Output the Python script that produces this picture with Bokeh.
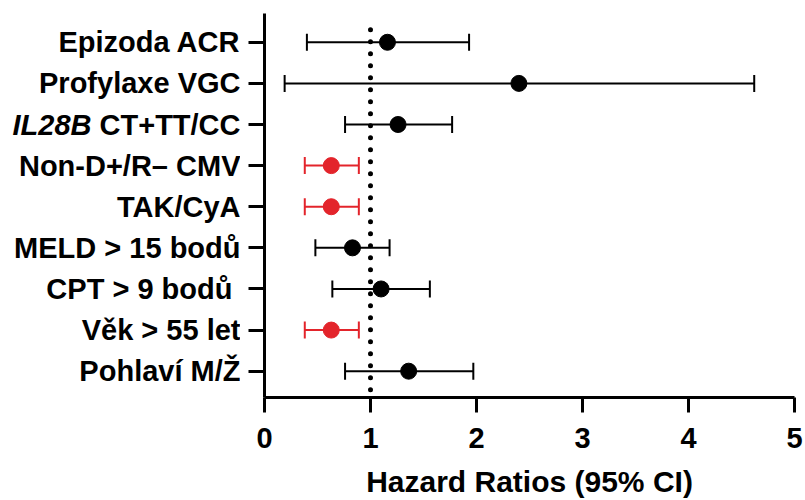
from bokeh.plotting import figure
from bokeh.models import ColumnDataSource, FixedTicker, Range1d, CustomLabelingPolicy
from bokeh.layouts import row
from bokeh.core.properties import value
from bokeh.embed import file_html
from bokeh.resources import INLINE

# Rows listed top to bottom
labels = ["Epizoda ACR", "Profylaxe VGC", "IL28B CT+TT/CC", "Non-D+/R\u2013 CMV",
          "TAK/CyA", "MELD > 15 bod\u016f", "CPT > 9 bod\u016f ", "V\u011bk > 55 let",
          "Pohlav\u00ed M/\u017d"]
hr = [1.16, 2.40, 1.26, 0.63, 0.63, 0.83, 1.10, 0.63, 1.36]
ci_low = [0.40, 0.19, 0.76, 0.38, 0.38, 0.48, 0.64, 0.38, 0.76]
ci_high = [1.93, 4.62, 1.77, 0.89, 0.89, 1.18, 1.56, 0.89, 1.97]
significant = [False, False, False, True, True, False, False, True, False]
x_ticks = [0, 1, 2, 3, 4, 5]
ref_value = 1
x_title = "Hazard Ratios (95% CI)"

RED = "#E3242B"
FONT = "Liberation Sans"

n = len(labels)
ypos = [n - 1 - i for i in range(n)]
colors = [RED if s else "black" for s in significant]

src = ColumnDataSource(dict(y=ypos, hr=hr, lo=ci_low, hi=ci_high, color=colors))

H = 500
LAB_W = 240          # width of the label column
BT, BB = 13, 100
yr = Range1d(-0.64, 8.7)

# ---------- label column ----------
lab = figure(width=LAB_W, height=H, output_backend="svg", toolbar_location=None,
             x_range=Range1d(0, LAB_W), y_range=yr, x_axis_type=None, y_axis_type=None,
             min_border_left=0, min_border_right=0, min_border_top=BT, min_border_bottom=BB)
lab.outline_line_color = None
lab.xgrid.visible = False
lab.ygrid.visible = False

plain_txt, plain_y, plain_x = [], [], []
for i, t in enumerate(labels):
    if t.startswith("IL28B"):
        continue
    plain_txt.append(t)
    plain_y.append(ypos[i])
    plain_x.append(LAB_W)
lab.text(x=plain_x, y=plain_y, text=plain_txt, text_align="right", text_baseline="middle",
         text_font=value(FONT), text_font_style="bold", text_font_size="29px",
         text_color="black")

il_idx = [i for i, t in enumerate(labels) if t.startswith("IL28B")][0]
il_gene, il_rest = labels[il_idx].split(" ", 1)
lab.text(x=[LAB_W], y=[ypos[il_idx]], text=[il_rest], text_align="right",
         text_baseline="middle", text_font=value(FONT), text_font_style="bold",
         text_font_size="29px", text_color="black")
lab.text(x=[LAB_W - 149], y=[ypos[il_idx]], text=[il_gene], text_align="right",
         text_baseline="middle", text_font=value(FONT), text_font_style="bold italic",
         text_font_size="29px", text_color="black")

# ---------- main plot ----------
W = 805 - LAB_W
p = figure(width=W, height=H, output_backend="svg", toolbar_location=None,
           x_range=Range1d(0, 5), y_range=yr,
           min_border_left=24, min_border_right=11, min_border_top=BT,
           min_border_bottom=BB)
p.outline_line_color = None
p.xgrid.visible = False
p.ygrid.visible = False

# reference line (dotted)
p.segment(x0=[ref_value], x1=[ref_value], y0=[-0.45], y1=[n - 0.5],
          line_color="black", line_width=5, line_dash="0 12", line_cap="round")

# error bars
p.segment(x0="lo", x1="hi", y0="y", y1="y", source=src, line_color="color", line_width=2)
p.scatter(x="lo", y="y", source=src, marker="dash", angle=1.5708, size=17,
          line_color="color", line_width=2)
p.scatter(x="hi", y="y", source=src, marker="dash", angle=1.5708, size=17,
          line_color="color", line_width=2)
p.scatter(x="hr", y="y", source=src, marker="circle", size=16,
          fill_color="color", line_color="color")

# x axis
xa = p.xaxis[0]
xa.ticker = FixedTicker(ticks=x_ticks)
xa.minor_tick_line_color = None
xa.axis_line_width = 3
xa.major_tick_line_width = 3
xa.major_tick_out = 15
xa.major_tick_in = 0
xa.major_label_standoff = 15
xa.major_label_text_font = FONT
xa.major_label_text_font_style = "bold"
xa.major_label_text_font_size = "29px"
xa.major_label_text_color = "black"
xa.axis_label = x_title
xa.axis_label_text_font = FONT
xa.axis_label_text_font_style = "bold"
xa.axis_label_text_font_size = "30px"
xa.axis_label_text_color = "black"
xa.axis_label_standoff = 14

# y axis (ticks only; labels drawn in the label column)
ya = p.yaxis[0]
ya.ticker = FixedTicker(ticks=ypos)
ya.major_label_overrides = {y: "" for y in ypos}
ya.major_label_policy = CustomLabelingPolicy(code="return []")
ya.major_label_standoff = 0
ya.minor_tick_line_color = None
ya.axis_line_width = 3
ya.major_tick_line_width = 3
ya.major_tick_out = 16
ya.major_tick_in = 0

layout = row(lab, p, spacing=0)
open("out.html", "w").write(file_html(layout, INLINE))
